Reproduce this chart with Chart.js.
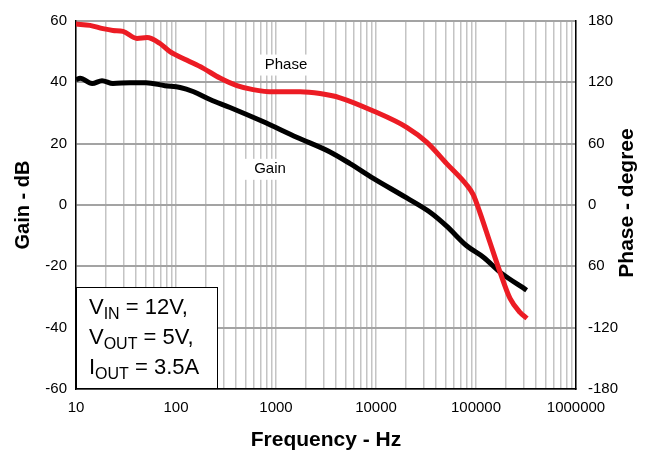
<!DOCTYPE html>
<html lang="en">
<head>
<meta charset="UTF-8">
<title>Gain and Phase</title>
<script src="https://cdn.jsdelivr.net/npm/chart.js"></script>
<style>
  html, body { margin: 0; padding: 0; background: #fff; }
  #wrap { width: 647px; height: 456px; }
</style>
</head>
<body>
<div id="wrap"><canvas id="grafico" width="647" height="456"></canvas></div>
<script>
    // gain curve (black)
    const freqGain = [10, 11, 14.5, 18.2, 23.4, 34.7, 50, 77.6, 110, 148, 219, 347, 740, 1610, 3470, 5500, 9400, 20300, 35500, 50900, 80700, 119400, 173800, 321000];
    const gainDb   = [40.9, 41.3, 39.6, 40.5, 39.6, 39.9, 39.9, 38.9, 38.3, 37.0, 34.4, 31.8, 27.2, 22.1, 17.3, 13.5, 8.7, 2.3, -2.6, -6.9, -13.3, -17.1, -21.9, -27.8];

    // phase curve (red)
    const freqPhase = [10, 13.8, 18.6, 23.4, 29.5, 40.7, 51.3, 69.2, 87.1, 129, 186, 275, 407, 589, 933, 1738, 2754, 4365, 9400, 20300, 32100, 50900, 80700, 94000, 109700, 138000, 173800, 218800, 275400, 323600];
    const phaseDeg  = [177, 175.7, 172.5, 170.8, 169.9, 163, 163.8, 158, 150, 141.6, 133.9, 124.2, 116.8, 112.9, 110.7, 110.7, 109, 104.9, 92, 76, 61.5, 40.5, 19.6, 9.9, -7.7, -36.7, -65.6, -91.4, -105, -111];

    const gainTicks  = [-60, -40, -20, 0, 20, 40, 60];
    const phaseTicks = ["-180", "-120", "60", "0", "60", "120", "180"];
    const freqTicks  = [];
    for (let d = 10; d < 1e6; d *= 10) {
        for (let k = 1; k < 10; k++) freqTicks.push(k * d);
    }
    freqTicks.push(1e6);

    const FONT = "'Liberation Sans', Arial, sans-serif";

    const notas = {
        id: "notas",
        afterDatasetsDraw(chart) {
            const c = chart.ctx;
            const a = chart.chartArea;
            const x = chart.scales.x, y = chart.scales.y;
            c.save();

            // curve labels
            function etiqueta(txt, f, g, w) {
                const px = x.getPixelForValue(f), py = y.getPixelForValue(g);
                c.fillStyle = "#fff";
                c.fillRect(px - w / 2, py - 10, w, 21);
                c.fillStyle = "#000";
                c.font = "15px " + FONT;
                c.textAlign = "center";
                c.textBaseline = "middle";
                c.fillText(txt, px, py);
            }
            etiqueta("Phase", 1259, 45.8, 58);
            etiqueta("Gain", 871, 11.8, 60);

            // conditions box
            const bx = a.left, by = a.bottom - 102;
            c.fillStyle = "#fff";
            c.fillRect(bx, by, 142, 102);
            c.strokeStyle = "#000";
            c.lineWidth = 1;
            c.strokeRect(bx + 0.5, by + 0.5, 141, 101);
            c.fillStyle = "#000";
            c.textAlign = "left";
            c.textBaseline = "alphabetic";
            const lineas = [["V", "IN", " = 12V,"], ["V", "OUT", " = 5V,"], ["I", "OUT", " = 3.5A"]];
            lineas.forEach((l, i) => {
                let tx = bx + 13;
                const ty = by + 27 + i * 30;
                c.font = "22px " + FONT;
                c.fillText(l[0], tx, ty);
                tx += c.measureText(l[0]).width;
                c.font = "16px " + FONT;
                c.fillText(l[1], tx, ty + 5);
                tx += c.measureText(l[1]).width;
                c.font = "22px " + FONT;
                c.fillText(l[2], tx, ty);
            });

            // right axis title
            c.font = "bold 21px " + FONT;
            c.textAlign = "center";
            c.textBaseline = "middle";
            c.translate(627, 203);
            c.rotate(-Math.PI / 2);
            c.fillText("Phase - degree", 0, 0);
            c.restore();
        }
    };

    const ctx = document.getElementById("grafico").getContext("2d");
    const chart = new Chart(ctx, {
        type: "line",
        data: {
            datasets: [
                {
                    label: "Phase",
                    data: freqPhase.map((f, i) => ({ x: f, y: phaseDeg[i] })),
                    yAxisID: "yPhase",
                    borderColor: "#ec1c24",
                    borderWidth: 5,
                    pointRadius: 0,
                    cubicInterpolationMode: "monotone",
                    fill: false
                },
                {
                    label: "Gain",
                    data: freqGain.map((f, i) => ({ x: f, y: gainDb[i] })),
                    yAxisID: "y",
                    borderColor: "#000",
                    borderWidth: 5,
                    pointRadius: 0,
                    cubicInterpolationMode: "monotone",
                    fill: false
                }
            ]
        },
        options: {
            responsive: false,
            animation: false,
            layout: { padding: { top: 16, left: 0, right: 0, bottom: 0 } },
            plugins: { legend: { display: false }, tooltip: { enabled: false } },
            scales: {
                x: {
                    type: "logarithmic",
                    min: 10,
                    max: 1e6,
                    afterBuildTicks: (s) => { s.ticks = freqTicks.map(v => ({ value: v })); },
                    afterFit: (s) => { s.height = 67; },
                    ticks: {
                        autoSkip: false,
                        maxRotation: 0,
                        padding: 10,
                        color: "#000",
                        font: { family: FONT, size: 15 },
                        callback: (v) => Math.abs(Math.log10(v) - Math.round(Math.log10(v))) < 1e-9 ? String(v) : ""
                    },
                    grid: { color: "#c4c4c4", lineWidth: 1.5, drawTicks: false },
                    border: { color: "#000", width: 1.5 },
                    title: {
                        display: true,
                        text: "Frequency - Hz",
                        color: "#000",
                        font: { family: FONT, size: 21, weight: "bold" },
                        padding: { top: 0, bottom: 3 }
                    }
                },
                y: {
                    position: "left",
                    min: -60,
                    max: 60,
                    afterBuildTicks: (s) => { s.ticks = gainTicks.map(v => ({ value: v })); },
                    afterFit: (s) => { s.width = 76; },
                    ticks: {
                        padding: 9,
                        color: "#000",
                        font: { family: FONT, size: 15 }
                    },
                    grid: { color: "#a3a3a3", lineWidth: 2, drawTicks: false },
                    border: { color: "#000", width: 1.5 },
                    title: {
                        display: true,
                        text: "Gain - dB",
                        color: "#000",
                        font: { family: FONT, size: 20, weight: "bold" },
                        padding: { top: 11, bottom: 0 }
                    }
                },
                yPhase: {
                    position: "right",
                    min: -180,
                    max: 180,
                    afterBuildTicks: (s) => { s.ticks = phaseTicks.map((t, i) => ({ value: -180 + 60 * i })); },
                    afterFit: (s) => { s.width = 71; },
                    ticks: {
                        padding: 12,
                        color: "#000",
                        font: { family: FONT, size: 15 },
                        callback: (v, i) => phaseTicks[i]
                    },
                    grid: { display: false, drawTicks: false },
                    border: { color: "#000", width: 1.5 }
                }
            }
        },
        plugins: [notas]
    });
</script>
</body>
</html>
